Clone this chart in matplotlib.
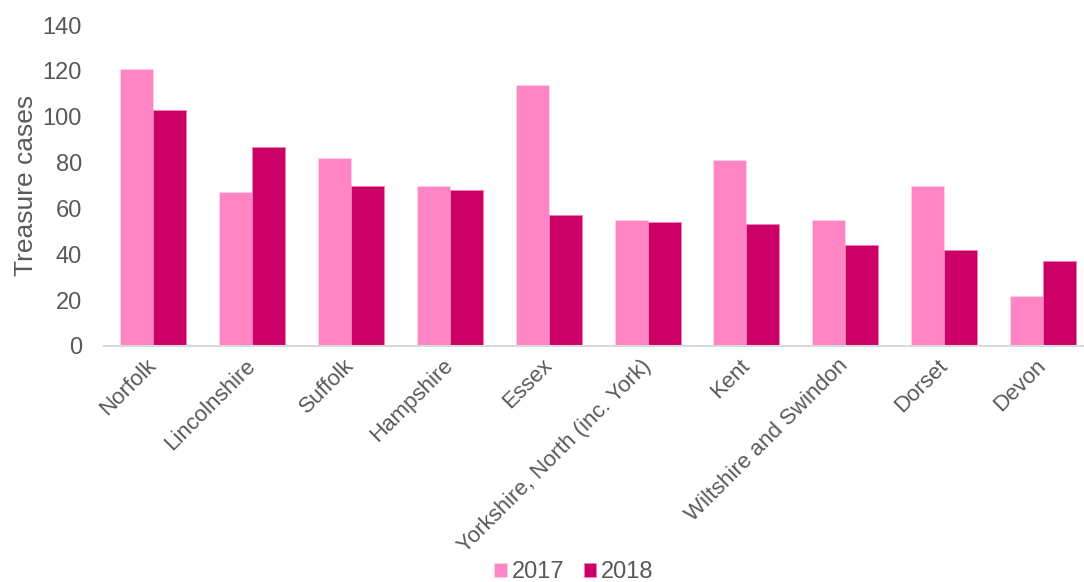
import numpy as np
import matplotlib.pyplot as plt

plt.rcParams['font.family'] = ['Liberation Sans', 'DejaVu Sans']

counties = ["Norfolk", "Lincolnshire", "Suffolk", "Hampshire", "Essex",
            "Yorkshire, North (inc. York)", "Kent", "Wiltshire and Swindon",
            "Dorset", "Devon"]
cases_2017 = [121, 67, 82, 70, 114, 55, 81, 55, 70, 22]
cases_2018 = [103, 87, 70, 68, 57, 54, 53, 44, 42, 37]
yticks = [0, 20, 40, 60, 80, 100, 120, 140]

light = "#FF85C5"
dark = "#CC0066"
grey = "#595959"

W, H = 1084, 582
fig = plt.figure(figsize=(W / 100, H / 100), dpi=100)
# plot area runs a little past the right edge, so Devon's group is clipped
ax = fig.add_axes([103.6 / W, (H - 346) / H, 989 / W, 321 / H])

x = np.arange(len(counties))
w = 1 / 3
ax.bar(x - w / 2, cases_2017, width=w, color=light, edgecolor="#FFD0E8",
       linewidth=0.6, label="2017")
ax.bar(x + w / 2, cases_2018, width=w, color=dark, edgecolor="#F080B8",
       linewidth=0.6, label="2018")

ax.set_xlim(-0.5, len(counties) - 0.5)
ax.set_ylim(0, 140)
ax.set_yticks(yticks)
ax.tick_params(axis="y", length=0, pad=15.5, labelsize=17, labelcolor=grey)
ax.set_xticks(x)
ax.set_xticklabels(counties, rotation=45, ha="right", va="center",
                   rotation_mode="anchor", fontsize=16, color=grey)
ax.tick_params(axis="x", length=0, pad=12)
for lbl in ax.get_xticklabels():
    lbl.set_x(lbl.get_position()[0] + 0.03)

for side in ("top", "right", "left"):
    ax.spines[side].set_visible(False)
ax.spines["bottom"].set_color("#D9D9D9")
ax.spines["bottom"].set_linewidth(1.5)

ax.set_ylabel("Treasure cases", fontsize=19, color=grey)
ax.yaxis.set_label_coords(-(103.6 - 38) / 989, 0.5)

fig.legend(loc="center", bbox_to_anchor=(574 / W, (H - 572) / H), ncol=2,
           frameon=False, fontsize=17, labelcolor=grey, handlelength=0.55,
           handleheight=0.55, handletextpad=0.2, columnspacing=0.8)

fig.savefig("out.png", dpi=100)
